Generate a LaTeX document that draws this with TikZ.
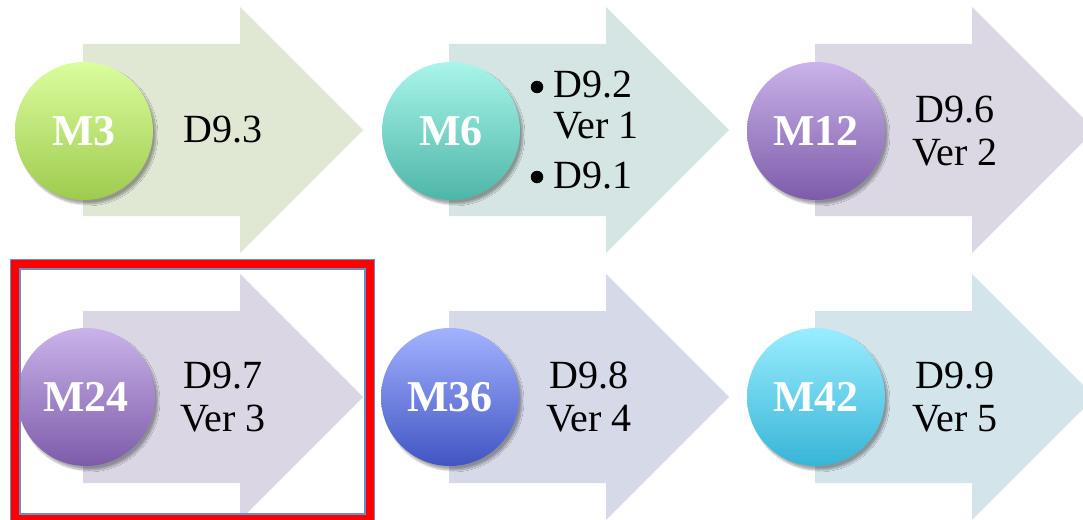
\documentclass[tikz,border=0pt]{standalone}
\usepackage{fontspec}
\setmainfont{Liberation Serif}
\usetikzlibrary{shadows.blur}

% arrow fills
\definecolor{arrA}{HTML}{E0E8D4}
\definecolor{arrB}{HTML}{D5E5E3}
\definecolor{arrC}{HTML}{DBD8E4}
\definecolor{arrD}{HTML}{DAD6E3}
\definecolor{arrE}{HTML}{D6D9E7}
\definecolor{arrF}{HTML}{D4E4EB}
% milestone gradients
\definecolor{gTop}{HTML}{DBFD9E}\definecolor{gBot}{HTML}{9ECB4E}
\definecolor{tTop}{HTML}{A9F5EA}\definecolor{tBot}{HTML}{4DB6A8}
\definecolor{pTop}{HTML}{C9B3E9}\definecolor{pBot}{HTML}{7D5BAA}
\definecolor{bTop}{HTML}{A3B2FF}\definecolor{bBot}{HTML}{4155C3}
\definecolor{cTop}{HTML}{9AEDFF}\definecolor{cBot}{HTML}{37B5D6}
% highlight frame
\definecolor{frameRed}{HTML}{FF0000}
\definecolor{frameBlue}{HTML}{6490D0}

\begin{document}
\begin{tikzpicture}[x=1pt,y=-1pt,
  chevron/.pic={\fill[#1] (0,-86) -- (157,-86) -- (157,-123) -- (280,0)
                 -- (157,123) -- (157,86) -- (0,86) -- cycle;},
  milestone/.style={circle, minimum size=138pt, inner sep=0pt, text=white,
    font=\fontsize{44}{44}\selectfont\bfseries,
    blur shadow={shadow xshift=3pt, shadow yshift=-4pt,
                 shadow blur steps=10, shadow opacity=35}},
  deliv/.style={font=\fontsize{40}{43}\selectfont, align=center,
    text=black, inner sep=0pt},
  item/.style={font=\fontsize{40}{43}\selectfont, text=black,
    inner sep=0pt, anchor=base west},
  dot/.style={circle, fill=black, inner sep=0pt, minimum size=12.5pt}]

\useasboundingbox (0,0) rectangle (1083,519);
\clip (0,0) rectangle (1083,519);

% chevrons
\pic at (83,130)  {chevron=arrA};
\pic at (449,130) {chevron=arrB};
\pic at (815,130) {chevron=arrC};
\pic at (83,397)  {chevron=arrD};
\pic at (449,397) {chevron=arrE};
\pic at (815,397) {chevron=arrF};

% milestones
\node[milestone, top color=gTop, bottom color=gBot] (m3)  at (84,131)  {M3};
\node[milestone, top color=tTop, bottom color=tBot] (m6)  at (451,131) {M6};
\node[milestone, top color=pTop, bottom color=pBot] (m12) at (816,131) {M12};
\node[milestone, top color=pTop, bottom color=pBot] (m24) at (86,397)  {M24};
\node[milestone, top color=bTop, bottom color=bBot] (m36) at (450,397) {M36};
\node[milestone, top color=cTop, bottom color=cBot] (m42) at (816,397) {M42};

% deliverables
\node[deliv] (d3)  at (223,130) {D9.3};
\node[item] (d6a) at (553,97)  {D9.2};
\node[item] (d6b) at (553,138) {Ver 1};
\node[item] (d6c) at (553,188) {D9.1};
\node[dot]  (b6a) at (537,87)  {};
\node[dot]  (b6c) at (537,177) {};
\node[deliv] (d12) at (955,131) {D9.6\\Ver 2};
\node[deliv] (d24) at (223,397) {D9.7\\Ver 3};
\node[deliv] (d36) at (589,397) {D9.8\\Ver 4};
\node[deliv] (d42) at (955,397) {D9.9\\Ver 5};

% highlight frame around the M24 step
\draw[frameBlue, line width=11pt] (15,264) rectangle (369.5,518.5);
\draw[frameRed, line width=8pt] (15,264) rectangle (369.5,518.5);
\end{tikzpicture}
\end{document}
